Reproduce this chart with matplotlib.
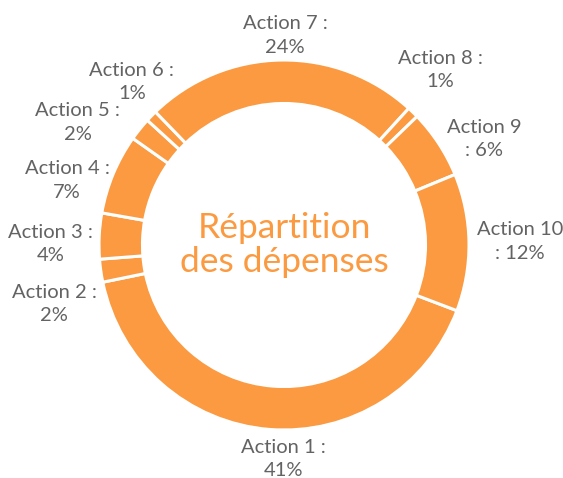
# Donut chart: répartition des dépenses par action

import matplotlib.pyplot as plt

# data
actions = ['Action 1', 'Action 2', 'Action 3', 'Action 4', 'Action 5',
           'Action 6', 'Action 7', 'Action 8', 'Action 9', 'Action 10']
shares = [41, 2, 4, 7, 2, 1, 24, 1, 6, 12]
label_texts = ['Action 1 :\n41%', 'Action 2 :\n2%', 'Action 3 :\n4%',
               'Action 4 :\n7%', 'Action 5 :\n2%', 'Action 6 :\n1%',
               'Action 7 :\n24%', 'Action 8 :\n1%', 'Action 9\n: 6%',
               'Action 10\n: 12%']

# layout of the labels (in units of the outer radius)
label_pos = [(-0.005, -1.157), (-1.243, -0.319), (-1.262, 0.005), (-1.173, 0.349),
             (-1.114, 0.662), (-0.822, 0.881), (0.005, 1.132), (0.843, 0.946),
             (1.081, 0.573), (1.276, 0.019)]

orange = '#FB9A40'
grey = '#636363'
plt.rcParams['font.family'] = ['Lato', 'DejaVu Sans']

fig = plt.figure(figsize=(5.63, 4.78), dpi=100)
ax = fig.add_axes([0, 0, 1, 1])

ax.pie(shares, colors=[orange] * len(shares), startangle=-20.8, counterclock=False,
       radius=1.0, wedgeprops=dict(width=0.235, edgecolor='white', linewidth=2.2))

for txt, (x, y) in zip(label_texts, label_pos):
    ax.text(x, y, txt, ha='center', va='center', color=grey, fontsize=14.5,
            linespacing=1.45)

ax.text(0, 0, 'Répartition\ndes dépenses', ha='center', va='center',
        color=orange, fontsize=25.5, linespacing=1.05)

# centre of the ring at (284, 245) px, outer radius 185 px
ax.set_xlim(-284 / 185, (563 - 284) / 185)
ax.set_ylim(-(478 - 245) / 185, 245 / 185)
ax.set_aspect('auto')
ax.axis('off')

fig.savefig('out.png', dpi=100)
